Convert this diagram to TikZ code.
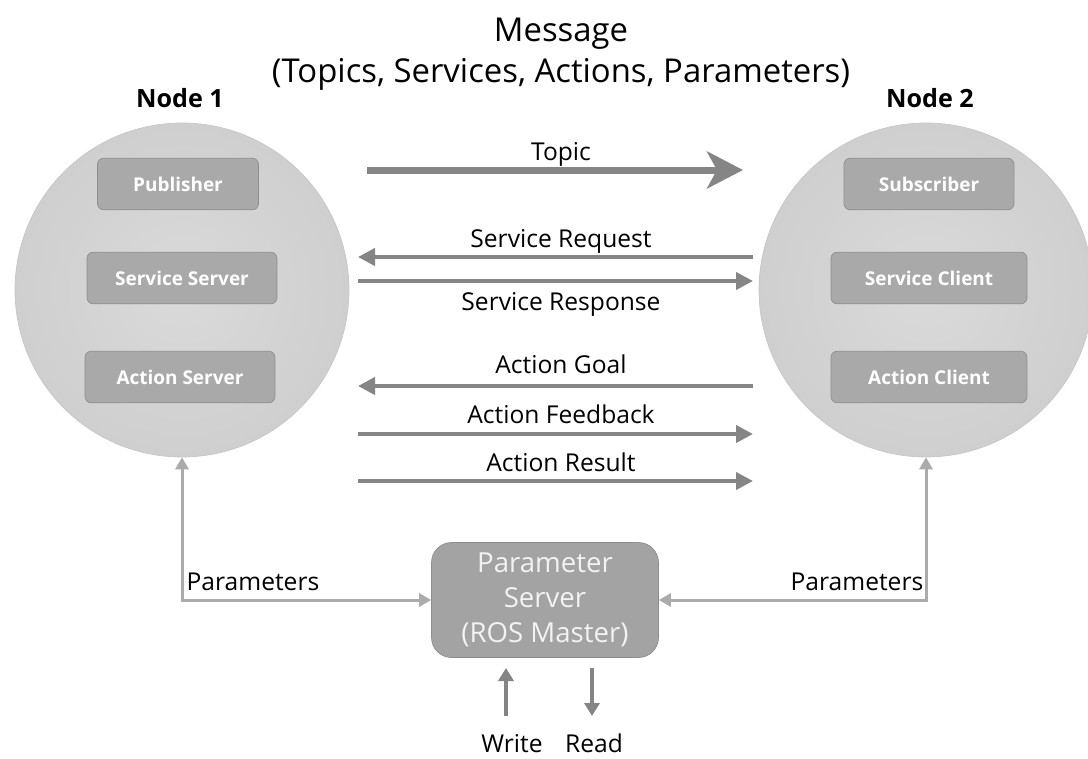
\documentclass[tikz,border=0pt]{standalone}
\usepackage{fontspec}
\setmainfont{Open Sans}
\usetikzlibrary{arrows.meta}
\definecolor{arrowgray}{HTML}{858585}
\definecolor{paramgray}{HTML}{ABABAB}
\definecolor{boxfill}{HTML}{A9A9A9}
\definecolor{boxline}{HTML}{8E8E8E}
\definecolor{circlein}{HTML}{DADADA}
\definecolor{circleout}{HTML}{CFCFCF}
\definecolor{circleline}{HTML}{C6C6C6}
\definecolor{serverfill}{HTML}{A3A3A3}
\definecolor{servertext}{HTML}{F2F2F2}
\tikzset{
  rosnode/.style={circle, minimum size=6.68cm, inner sep=0pt, draw=circleline, inner color=circlein, outer color=circleout},
  part/.style={draw=boxline, fill=boxfill, rounded corners=0.12cm, minimum height=1.03cm, inner sep=0pt, text=white, font=\fontsize{10.8}{12}\selectfont\bfseries},
  server/.style={draw=boxline, fill=serverfill, rounded corners=0.4cm, minimum width=4.54cm, minimum height=2.3cm, inner sep=0pt, align=center, text=servertext, font=\fontsize{15.7}{19.8}\selectfont},
  nodetitle/.style={anchor=base, font=\fontsize{14.3}{16}\selectfont\bfseries},
  headline/.style={anchor=base, font=\fontsize{18.7}{22}\selectfont},
  lbl/.style={anchor=base, inner sep=1pt, font=\fontsize{14}{16}\selectfont},
  msg/.style={draw=arrowgray, line width=0.08cm, -{Triangle[length=0.34cm, width=0.34cm]}},
  topicarrow/.style={draw=arrowgray, line width=0.14cm, -{Stealth[length=0.72cm, width=0.74cm, inset=0.2cm]}},
  parline/.style={draw=paramgray, line width=0.06cm, {Triangle[length=0.24cm, width=0.26cm]}-{Triangle[length=0.24cm, width=0.26cm]}},
  rwarrow/.style={draw=arrowgray, line width=0.09cm, -{Triangle[length=0.26cm, width=0.3cm]}}
}
\begin{document}
\begin{tikzpicture}[x=0.02cm, y=-0.02cm]
  \useasboundingbox (0,0) rectangle (1088,758);

  %%% title
  \node[headline] (title1) at (561,41) {Message};
  \node[headline] (title2) at (561,82) {(Topics, Services, Actions, Parameters)};

  %%% the two nodes
  \node[rosnode] (node1) at (182,290) {};
  \node[rosnode] (node2) at (926,290) {};
  \node[nodetitle] (n1title) at (180,107) {Node 1};
  \node[nodetitle] (n2title) at (930,107) {Node 2};

  \node[part, minimum width=3.22cm] (pub) at (178,184) {Publisher};
  \node[part, minimum width=3.8cm] (ssrv) at (182,278) {Service Server};
  \node[part, minimum width=3.8cm] (asrv) at (180,377) {Action Server};

  \node[part, minimum width=3.4cm] (sub) at (929,184) {Subscriber};
  \node[part, minimum width=3.92cm] (scli) at (929,278) {Service Client};
  \node[part, minimum width=3.92cm] (acli) at (929,377) {Action Client};

  %%% messages between the nodes
  \coordinate (topicL) at (367,170);
  \coordinate (topicR) at (743,170);
  \draw[topicarrow] (topicL) -- (topicR);
  \node[lbl] (topic) at (561,160) {Topic};

  \coordinate (reqL) at (358,257);
  \coordinate (reqR) at (753,257);
  \draw[msg] (reqR) -- (reqL);
  \node[lbl] (req) at (561,247) {Service Request};

  \coordinate (resL) at (358,281);
  \coordinate (resR) at (753,281);
  \draw[msg] (resL) -- (resR);
  \node[lbl] (res) at (561,310) {Service Response};

  \coordinate (goalL) at (358,386);
  \coordinate (goalR) at (753,386);
  \draw[msg] (goalR) -- (goalL);
  \node[lbl] (goal) at (561,373) {Action Goal};

  \coordinate (fbL) at (358,434);
  \coordinate (fbR) at (753,434);
  \draw[msg] (fbL) -- (fbR);
  \node[lbl] (fb) at (561,423) {Action Feedback};

  \coordinate (resultL) at (358,481);
  \coordinate (resultR) at (753,481);
  \draw[msg] (resultL) -- (resultR);
  \node[lbl] (result) at (561,471) {Action Result};

  %%% parameter server
  \node[server] (param) at (545,600) {Parameter\\Server\\(ROS Master)};
  \draw[parline] (node1.south) |- (param.west);
  \draw[parline] (node2.south) |- (param.east);
  \node[lbl] (par1) at (253,590) {Parameters};
  \node[lbl] (par2) at (857,590) {Parameters};

  \coordinate (writeB) at (506,716);
  \coordinate (writeT) at (506,668);
  \draw[rwarrow] (writeB) -- (writeT);
  \coordinate (readT) at (592,668);
  \coordinate (readB) at (592,716);
  \draw[rwarrow] (readT) -- (readB);
  \node[lbl] (write) at (512,752) {Write};
  \node[lbl] (read) at (594,752) {Read};
\end{tikzpicture}
\end{document}
